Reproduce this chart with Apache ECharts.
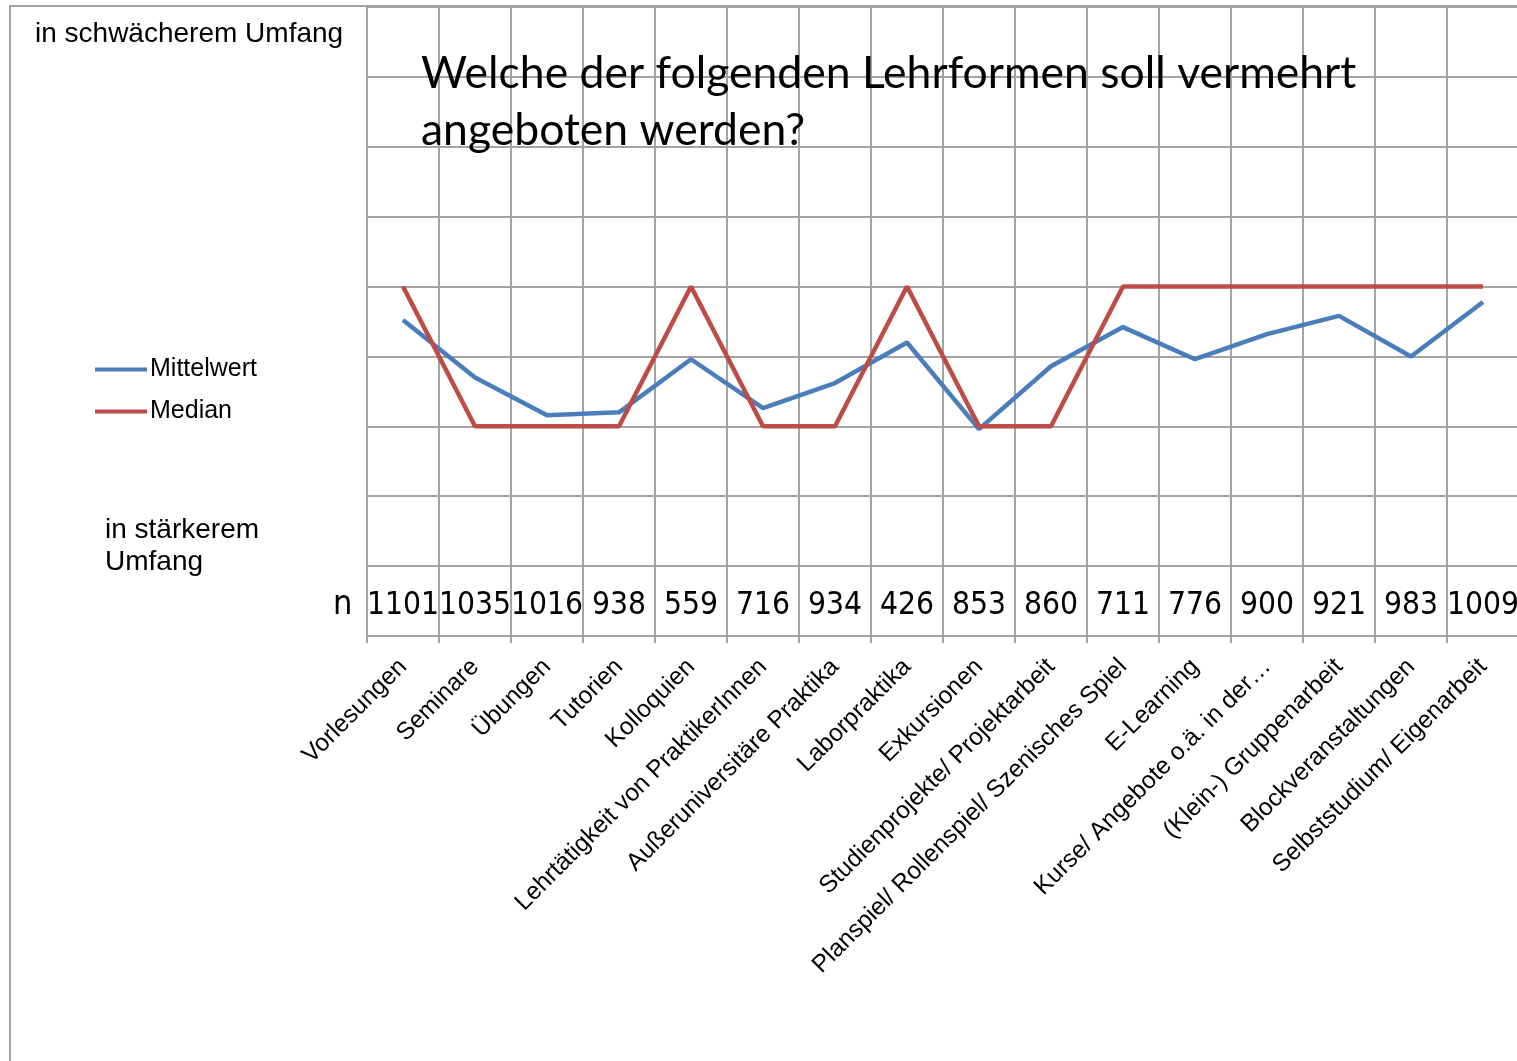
<!DOCTYPE html>
<html lang="de">
<head>
    <meta charset="UTF-8">
    <title>Lehrformen</title>
    <script src="https://cdn.jsdelivr.net/npm/echarts@6/dist/echarts.min.js"></script>
    <style>
        html, body { margin: 0; padding: 0; background: #fff; }
        #main { width: 1517px; height: 1061px; }
    </style>
</head>
<body>
<div id="main"></div>
<script>
    // Kategorien (Lehrformen)
    var categories = ['Vorlesungen', 'Seminare', 'Übungen', 'Tutorien', 'Kolloquien',
        'Lehrtätigkeit von PraktikerInnen', 'Außeruniversitäre Praktika', 'Laborpraktika',
        'Exkursionen', 'Studienprojekte/ Projektarbeit', 'Planspiel/ Rollenspiel/ Szenisches Spiel',
        'E-Learning', 'Kurse/ Angebote o.ä. in der…', '(Klein-) Gruppenarbeit',
        'Blockveranstaltungen', 'Selbststudium/ Eigenarbeit'];
    // Fallzahlen n
    var nValues = ['1101', '1035', '1016', '938', '559', '716', '934', '426',
        '853', '860', '711', '776', '900', '921', '983', '1009'];
    // Werte (1 = in stärkerem Umfang ... 5 = in schwächerem Umfang)
    var mittelwert = [2.76, 2.35, 2.08, 2.10, 2.48, 2.13, 2.31, 2.60,
        1.98, 2.43, 2.71, 2.48, 2.66, 2.79, 2.50, 2.89];
    var median = [3, 2, 2, 2, 3, 2, 2, 3, 2, 2, 3, 3, 3, 3, 3, 3];

    var gridColor = '#a3a3a3';
    var chart = echarts.init(document.getElementById('main'));
    chart.setOption({
        animation: false,
        title: {
            text: 'Welche der folgenden Lehrformen soll vermehrt\nangeboten werden?',
            left: 416,
            top: 40,
            textStyle: {
                fontFamily: 'Lato',
                fontSize: 44.5,
                fontWeight: 'normal',
                color: '#000',
                lineHeight: 57
            }
        },
        legend: {
            orient: 'vertical',
            left: 90,
            top: 352,
            itemWidth: 52,
            itemHeight: 4,
            itemGap: 17,
            icon: 'rect',
            textStyle: { fontFamily: 'Liberation Sans, Arial', fontSize: 25, color: '#000', padding: [0, 0, 0, -2] },
            data: ['Mittelwert', 'Median']
        },
        grid: { left: 367, top: 7, width: 1152, height: 629, outerBoundsMode: 'none' },
        xAxis: [
            {
                type: 'category',
                data: categories,
                boundaryGap: true,
                axisLine: { lineStyle: { color: gridColor, width: 2 } },
                axisTick: { show: true, length: 7, lineStyle: { color: gridColor, width: 2 } },
                splitLine: { show: true, lineStyle: { color: gridColor, width: 2 } },
                axisLabel: {
                    rotate: 45,
                    interval: 0,
                    margin: 27,
                    fontFamily: 'Liberation Sans, Arial',
                    fontSize: 24.5,
                    color: '#000'
                }
            },
            {
                type: 'category',
                data: nValues,
                position: 'bottom',
                boundaryGap: true,
                axisLine: { show: false },
                axisTick: { show: false },
                splitLine: { show: false },
                axisLabel: {
                    inside: true,
                    interval: 0,
                    margin: 14,
                    fontFamily: 'DejaVu Sans Condensed, Liberation Sans Narrow',
                    fontSize: 31.5,
                    color: '#000'
                }
            }
        ],
        yAxis: {
            type: 'value',
            min: 0.5,
            max: 5,
            interval: 0.5,
            axisLine: { show: true, lineStyle: { color: gridColor, width: 2 } },
            axisTick: { show: false },
            axisLabel: { show: false },
            splitLine: { show: true, lineStyle: { color: gridColor, width: 2 } }
        },
        graphic: [
            {
                type: 'rect',
                shape: { x: 10, y: 6, width: 1600, height: 1100 },
                style: { fill: 'none', stroke: gridColor, lineWidth: 2 },
                z: -1
            },
            {
                type: 'text', left: 35, top: 20,
                style: { text: 'in schwächerem Umfang', font: '28px "Liberation Sans", Arial', fill: '#000' }
            },
            {
                type: 'text', left: 105, top: 514,
                style: { text: 'in stärkerem\nUmfang', font: '28px "Liberation Sans", Arial', fill: '#000', lineHeight: 32 }
            },
            {
                type: 'text', left: 333, top: 588,
                style: { text: 'n', font: '34px "DejaVu Sans Condensed", sans-serif', fill: '#000' }
            }
        ],
        series: [
            {
                name: 'Mittelwert',
                type: 'line',
                data: mittelwert,
                showSymbol: false,
                symbol: 'none',
                itemStyle: { color: '#4a7ebb' },
                lineStyle: { color: '#4a7ebb', width: 4.5 }
            },
            {
                name: 'Median',
                type: 'line',
                data: median,
                showSymbol: false,
                symbol: 'none',
                itemStyle: { color: '#be4b48' },
                lineStyle: { color: '#be4b48', width: 4.5 }
            }
        ]
    });
</script>
</body>
</html>
